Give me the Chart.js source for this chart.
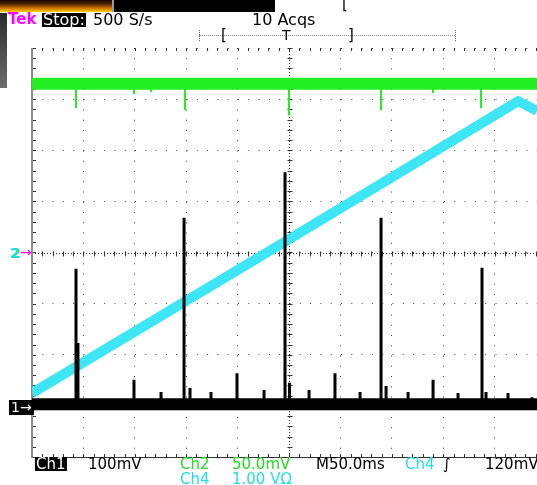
<!DOCTYPE html>
<html lang="en">
<head>
<meta charset="UTF-8">
<title>Tek scope capture</title>
<script src="https://cdn.jsdelivr.net/npm/chart.js"></script>
<style>
  body { margin: 0; background: #fff; }
  #scope { position: relative; width: 537px; height: 485px; overflow: hidden; background: #fff; font-family: "DejaVu Sans", sans-serif; }
  #scope canvas { position: absolute; left: 0; top: 0; }
  .t { position: absolute; white-space: pre; line-height: 1; font-size: 15px; color: #000; }
  .top { font-size: 16px; }
  .inv { background: #000; color: #fff; height: 14px; line-height: 14px; padding: 0 1px; }
  .grn { color: #22dd22; }
  .cyn { color: #22dcec; }
  #strip { position: absolute; left: 0; top: 0; width: 275px; height: 12px; background: #000; }
  #wave { position: absolute; left: 0; top: 0; width: 112px; height: 12px; border-right: 2px solid #9a9a9a;
          background: linear-gradient(#140800 0%, #5a2800 35%, #d07800 70%, #ffd400 100%); }
  #tab { position: absolute; left: 0; top: 13px; width: 7px; height: 75px; background: linear-gradient(#2a2a2a, #6e6e6e); }
  #bar { position: absolute; left: 199px; top: 35px; width: 256px; border-top: 1px dotted #8c8c8c; }
  .endtick { position: absolute; top: 30px; width: 0; height: 11px; border-left: 1px dotted #666; }
</style>
</head>
<body>
<div id="scope">
  <div id="strip"><div id="wave"></div></div>
  <div id="tab"></div>
  <canvas id="plot" width="537" height="485"></canvas>

  <div class="t" style="left:342px;top:-3px;">[</div>
  <div class="t top" style="left:8px;top:12px;color:#ff00ff;font-weight:bold;font-size:15px">Tek</div>
  <div class="t top inv" style="left:42px;top:13px">Stop:</div>
  <div class="t top" style="left:93px;top:12px">500 S/s</div>
  <div class="t top" style="left:252px;top:12px">10 Acqs</div>

  <div id="bar"></div>
  <div class="endtick" style="left:199px"></div>
  <div class="endtick" style="left:455px"></div>
  <div class="t" style="left:221px;top:28px">[</div>
  <div class="t" style="left:282px;top:28px;font-size:14px">T</div>
  <div class="t" style="left:348px;top:28px">]</div>

  <div class="t cyn" style="left:10px;top:246px;font-size:14px;font-weight:bold;text-shadow:1px 0 #22dd22">2</div>
  <div class="t" style="left:20px;top:245px;color:#ff00ff;font-size:14px">→</div>
  <div class="t inv" style="left:9px;top:400px;height:15px;line-height:15px;font-size:14px;padding:0 2px">1→</div>

  <div class="t inv" style="left:35px;top:457px">Ch1</div>
  <div class="t" style="left:88px;top:457px">100mV</div>
  <div class="t grn" style="left:180px;top:457px">Ch2</div>
  <div class="t grn" style="left:232px;top:457px">50.0mV</div>
  <div class="t" style="left:316px;top:457px">M50.0ms</div>
  <div class="t cyn" style="left:405px;top:457px">Ch4</div>
  <div class="t" style="left:443px;top:457px">∫</div>
  <div class="t" style="left:485px;top:457px">120mV</div>
  <div class="t cyn" style="left:180px;top:472px">Ch4</div>
  <div class="t cyn" style="left:232px;top:472px">1.00 VΩ</div>
</div>
<script>
// time base: 50 ms/div, the capture shows 0 .. 491 ms
const divMs = 50;
const screenMs = 491.2;
const centreMs = 250;
const gridDivs = 8;

// Ch1 (black) 100 mV/div, ground marker 3 div below centre
const ch1MvPerDiv = 100, ch1Offset = -3;
const ch1BaseMv = 3;
const ch1SpikeMs = [42.8, 44.7, 99.2, 125.5, 147.9, 153.7, 174.1, 199.4, 225.7, 246.1, 250.5, 269.5,
                    294.7, 319.1, 339.5, 344.4, 365.8, 390.1, 414.4, 437.7, 441.6, 463.0, 486.4];
const ch1SpikeMv = [268, 123, 51, 27, 368, 35, 27, 64, 31, 457, 45, 31,
                    64, 27, 368, 39, 27, 51, 25, 270, 27, 25, 17];

// Ch2 (green) 50 mV/div, ground at centre
const ch2MvPerDiv = 50, ch2Offset = 0;
const ch2BaseMv = 165;
const ch2DipMs = [42.8, 99.2, 115.8, 148.8, 250.0, 339.5, 390.1, 436.8];
const ch2DipMv = [141, 155, 157, 139, 134, 139, 156, 141];

// Ch4 (cyan) 1 V/div, ground at centre
const ch4VPerDiv = 1, ch4Offset = 0;
const ch4Ms = [0, 250.0, 472.8, 491.2];
const ch4V = [-2.75, 0.26, 2.96, 2.77];

const toDiv = (v, perDiv, off) => v / perDiv + off;
const flat = (v, perDiv, off) => [{x: 0, y: toDiv(v, perDiv, off)}, {x: screenMs, y: toDiv(v, perDiv, off)}];
const spikes = (ts, vs, base, perDiv, off) => ts.flatMap((t, i) => [
  {x: t, y: toDiv(base, perDiv, off)}, {x: t, y: toDiv(vs[i], perDiv, off)}, {x: t, y: null}]);

const line = (data, color, width) => ({data, borderColor: color, borderWidth: width, pointRadius: 0, tension: 0, spanGaps: false, fill: false});

const scopeFrame = {
  id: 'scopeFrame',
  beforeDatasetsDraw(chart) {
    const {ctx, chartArea: a, scales: {x, y}} = chart;
    const cx = Math.round(x.getPixelForValue(centreMs)) + 0.5;
    const cy = Math.round(y.getPixelForValue(0)) + 0.5;
    ctx.save();
    ctx.strokeStyle = '#333';
    ctx.lineWidth = 1;
    ctx.setLineDash([1, 2]);
    ctx.beginPath();
    ctx.moveTo(cx, a.top); ctx.lineTo(cx, a.bottom);
    ctx.moveTo(a.left, cy); ctx.lineTo(a.right, cy);
    ctx.stroke();
    ctx.setLineDash([]);
    ctx.beginPath();
    for (let t = 0; t <= screenMs; t += divMs / 5) {
      const px = Math.round(x.getPixelForValue(t)) + 0.5;
      ctx.moveTo(px, cy - 2); ctx.lineTo(px, cy + 3);
      ctx.moveTo(px, a.top); ctx.lineTo(px, a.top + 3);
      ctx.moveTo(px, a.bottom); ctx.lineTo(px, a.bottom - 3);
    }
    for (let d = -gridDivs / 2; d <= gridDivs / 2 + 1e-6; d += 0.2) {
      const py = Math.round(y.getPixelForValue(d)) + 0.5;
      ctx.moveTo(cx - 2, py); ctx.lineTo(cx + 3, py);
      ctx.moveTo(a.left, py); ctx.lineTo(a.left + 4, py);
    }
    ctx.stroke();
    ctx.beginPath();
    ctx.moveTo(a.left, a.bottom + 0.5); ctx.lineTo(a.right, a.bottom + 0.5);
    ctx.stroke();
    ctx.strokeStyle = '#8c8c8c';
    ctx.lineWidth = 2;
    ctx.beginPath();
    ctx.moveTo(a.left, a.top); ctx.lineTo(a.left, a.bottom + 1);
    ctx.stroke();
    ctx.restore();
  }
};

new Chart(document.getElementById('plot'), {
  type: 'line',
  data: {
    datasets: [
      line(spikes(ch1SpikeMs, ch1SpikeMv, ch1BaseMv, ch1MvPerDiv, ch1Offset), '#000', 3),
      line(flat(ch1BaseMv, ch1MvPerDiv, ch1Offset), '#000', 12),
      line(ch4Ms.map((t, i) => ({x: t, y: toDiv(ch4V[i], ch4VPerDiv, ch4Offset)})), '#3ee6f5', 10),
      line(flat(ch2BaseMv, ch2MvPerDiv, ch2Offset), '#22ee22', 12),
      line(spikes(ch2DipMs, ch2DipMv, ch2BaseMv, ch2MvPerDiv, ch2Offset), '#22ee22', 2)
    ]
  },
  options: {
    responsive: false,
    devicePixelRatio: 1,
    animation: false,
    layout: {padding: {left: 32, top: 48, right: 0, bottom: 28}},
    plugins: {legend: {display: false}, tooltip: {enabled: false}},
    scales: {
      x: {
        type: 'linear', min: 0, max: screenMs,
        afterBuildTicks: s => { s.ticks = [0, 1, 2, 3, 4, 5, 6, 7, 8, 9].map(i => ({value: i * divMs})); },
        ticks: {display: false},
        grid: {color: '#444', lineWidth: 1, drawTicks: false},
        border: {display: false, dash: [1, 9.25]}
      },
      y: {
        min: -gridDivs / 2, max: gridDivs / 2,
        afterBuildTicks: s => { s.ticks = [-4, -3, -2, -1, 0, 1, 2, 3, 4].map(v => ({value: v})); },
        ticks: {display: false},
        grid: {color: '#444', lineWidth: 1, drawTicks: false},
        border: {display: false, dash: [1, 9.3]}
      }
    }
  },
  plugins: [scopeFrame]
});
</script>
</body>
</html>
